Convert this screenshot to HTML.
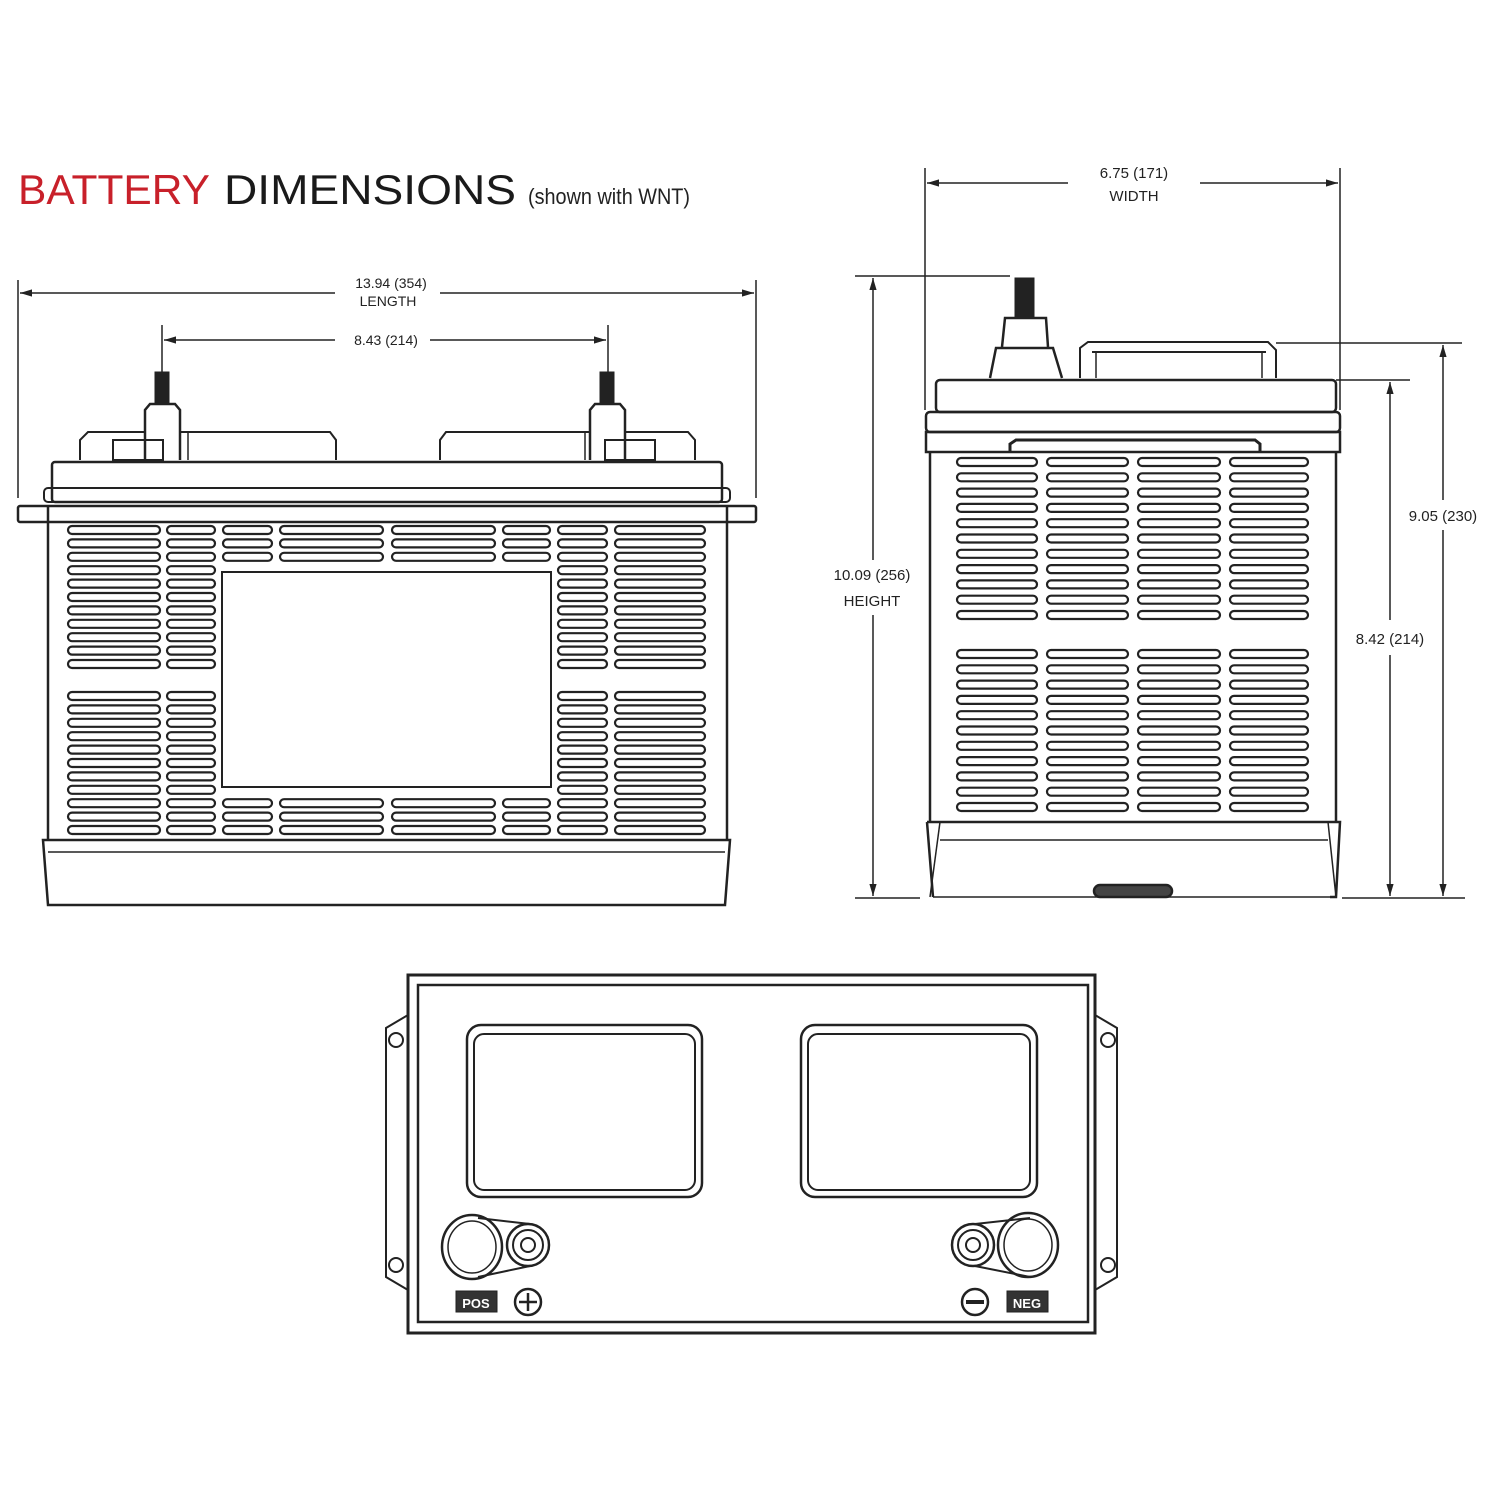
<!DOCTYPE html>
<html><head><meta charset="utf-8"><style>
html,body{margin:0;padding:0;background:#fff}
svg{display:block}
text{font-family:"Liberation Sans",sans-serif;fill:#222}
</style></head><body>
<svg id="s" width="1500" height="1500" viewBox="0 0 1500 1500" xmlns="http://www.w3.org/2000/svg">
<defs>
<marker id="a" viewBox="0 0 10 10" refX="10" refY="5" markerWidth="8" markerHeight="8" orient="auto-start-reverse"><path d="M0,2 L10,5 L0,8z" fill="#222"/></marker>
</defs>
<text x="18" y="204" font-size="42" style="fill:#c8202a" textLength="192" lengthAdjust="spacingAndGlyphs">BATTERY</text>
<text x="224" y="204" font-size="42" style="fill:#1a1a1a" textLength="292" lengthAdjust="spacingAndGlyphs">DIMENSIONS</text>
<text x="528" y="204" font-size="22" textLength="162" lengthAdjust="spacingAndGlyphs">(shown with WNT)</text>

<g fill="none" stroke="#222" stroke-width="2.5" id="g">
<!-- FRONT dims -->
<line x1="18" y1="280" x2="18" y2="498" stroke-width="1.5"/>
<line x1="756" y1="280" x2="756" y2="498" stroke-width="1.5"/>
<line x1="20" y1="293" x2="335" y2="293" stroke-width="1.5" marker-start="url(#a)"/>
<line x1="440" y1="293" x2="754" y2="293" stroke-width="1.5" marker-end="url(#a)"/>
<line x1="162" y1="325" x2="162" y2="372" stroke-width="1.5"/>
<line x1="608" y1="325" x2="608" y2="372" stroke-width="1.5"/>
<line x1="164" y1="340" x2="335" y2="340" stroke-width="1.5" marker-start="url(#a)"/>
<line x1="430" y1="340" x2="606" y2="340" stroke-width="1.5" marker-end="url(#a)"/>
<!-- front top details -->
<rect x="155" y="372" width="14" height="32" fill="#222" stroke-width="1"/>
<rect x="600" y="372" width="14" height="32" fill="#222" stroke-width="1"/>
<path d="M145 460 V410 L150 404 H175 L180 410 V460"/>
<path d="M590 460 V410 L595 404 H620 L625 410 V460"/>
<path d="M80 460 V440 L88 432 H145 M180 432 H330 L336 440 V460" stroke-width="2"/>
<path d="M440 460 V440 L446 432 H590 M625 432 H688 L695 440 V460" stroke-width="2"/>
<rect x="113" y="440" width="50" height="20" stroke-width="2"/>
<rect x="605" y="440" width="50" height="20" stroke-width="2"/>
<line x1="188" y1="432" x2="188" y2="460" stroke-width="1.5"/>
<line x1="585" y1="432" x2="585" y2="460" stroke-width="1.5"/>
<!-- lid -->
<rect x="52" y="462" width="670" height="40" rx="3"/>
<rect x="44" y="488" width="686" height="14" rx="4" stroke-width="2"/>
<rect x="18" y="506" width="738" height="16" rx="2"/>
<line x1="48" y1="506" x2="48" y2="522"/><line x1="727" y1="506" x2="727" y2="522"/>
<line x1="48" y1="522" x2="48" y2="840"/><line x1="727" y1="522" x2="727" y2="840"/>
<rect x="222" y="572" width="329" height="215" stroke-width="2"/>
<path d="M43 840 H730 L725 905 H48 Z"/>
<line x1="48" y1="852" x2="725" y2="852" stroke-width="1.5"/>

<!-- SIDE dims -->
<line x1="925" y1="168" x2="925" y2="410" stroke-width="1.5"/>
<line x1="1340" y1="168" x2="1340" y2="410" stroke-width="1.5"/>
<line x1="927" y1="183" x2="1068" y2="183" stroke-width="1.5" marker-start="url(#a)"/>
<line x1="1200" y1="183" x2="1338" y2="183" stroke-width="1.5" marker-end="url(#a)"/>
<line x1="855" y1="276" x2="1010" y2="276" stroke-width="1.5"/>
<line x1="873" y1="278" x2="873" y2="560" stroke-width="1.5" marker-start="url(#a)"/>
<line x1="873" y1="615" x2="873" y2="896" stroke-width="1.5" marker-end="url(#a)"/>
<line x1="855" y1="898" x2="920" y2="898" stroke-width="1.5"/>
<line x1="1342" y1="898" x2="1465" y2="898" stroke-width="1.5"/>
<line x1="1276" y1="343" x2="1462" y2="343" stroke-width="1.5"/>
<line x1="1336" y1="380" x2="1410" y2="380" stroke-width="1.5"/>
<line x1="1443" y1="345" x2="1443" y2="500" stroke-width="1.5" marker-start="url(#a)"/>
<line x1="1443" y1="530" x2="1443" y2="896" stroke-width="1.5" marker-end="url(#a)"/>
<line x1="1390" y1="382" x2="1390" y2="620" stroke-width="1.5" marker-start="url(#a)"/>
<line x1="1390" y1="655" x2="1390" y2="896" stroke-width="1.5" marker-end="url(#a)"/>
<!-- side terminal -->
<rect x="1015" y="278" width="19" height="40" fill="#222" stroke-width="1"/>
<path d="M1002 347 L1005 318 H1046 L1048 347"/>
<path d="M990 378 L996 348 H1053 L1062 378"/>
<path d="M1080 378 V348 L1088 342 H1268 L1276 350 V378" stroke-width="2"/>
<line x1="1092" y1="352" x2="1266" y2="352" stroke-width="2"/>
<line x1="1096" y1="352" x2="1096" y2="378" stroke-width="1.5"/>
<line x1="1262" y1="352" x2="1262" y2="378" stroke-width="1.5"/>
<rect x="936" y="380" width="400" height="32" rx="4"/>
<rect x="926" y="412" width="414" height="20" rx="4"/>
<rect x="926" y="432" width="414" height="20"/>
<path d="M1010 452 V444 L1016 440 H1255 L1260 444 V452" stroke-width="3"/>
<line x1="930" y1="452" x2="930" y2="822"/><line x1="1336" y1="822" x2="1336" y2="452"/>
<path d="M927 822 H1340 L1336 897 H1330 M927 822 L933 897" />
<line x1="940" y1="822" x2="930" y2="897" stroke-width="1.5"/>
<line x1="1328" y1="822" x2="1336" y2="897" stroke-width="1.5"/>
<line x1="940" y1="840" x2="1328" y2="840" stroke-width="1.5"/>
<line x1="933" y1="897" x2="1330" y2="897" stroke-width="1.5"/>
<rect x="1094" y="885" width="78" height="12" rx="6" fill="#444"/>

<!-- TOP view -->
<path d="M408 975 H1095 V1333 H408 Z" stroke-width="3"/>
<rect x="418" y="985" width="670" height="337"/>
<path d="M408 1015 L386 1028 V1277 L408 1290" stroke-width="2"/>
<path d="M1095 1015 L1117 1028 V1277 L1095 1290" stroke-width="2"/>
<circle cx="396" cy="1040" r="7" stroke-width="2"/><circle cx="396" cy="1265" r="7" stroke-width="2"/>
<circle cx="1108" cy="1040" r="7" stroke-width="2"/><circle cx="1108" cy="1265" r="7" stroke-width="2"/>
<rect x="467" y="1025" width="235" height="172" rx="14"/>
<rect x="474" y="1034" width="221" height="156" rx="10" stroke-width="2"/>
<rect x="801" y="1025" width="236" height="172" rx="14"/>
<rect x="808" y="1034" width="222" height="156" rx="10" stroke-width="2"/>
<!-- terminals -->
<path d="M478 1218 L530 1224 M478 1277 L530 1266" stroke-width="2"/>
<ellipse cx="472" cy="1247" rx="30" ry="32"/>
<ellipse cx="472" cy="1247" rx="24" ry="26" stroke-width="1.5"/>
<circle cx="528" cy="1245" r="21"/><circle cx="528" cy="1245" r="15" stroke-width="2"/><circle cx="528" cy="1245" r="7" stroke-width="2"/>
<path d="M1030 1218 L975 1224 M1030 1277 L975 1266" stroke-width="2"/>
<ellipse cx="1028" cy="1245" rx="30" ry="32"/>
<ellipse cx="1028" cy="1245" rx="24" ry="26" stroke-width="1.5"/>
<circle cx="973" cy="1245" r="21"/><circle cx="973" cy="1245" r="15" stroke-width="2"/><circle cx="973" cy="1245" r="7" stroke-width="2"/>
<rect x="456" y="1291" width="41" height="21" fill="#333" stroke-width="1"/>
<rect x="1007" y="1291" width="41" height="21" fill="#333" stroke-width="1"/>
<circle cx="528" cy="1302" r="13"/>
<path d="M528 1293 V1311 M519 1302 H537" stroke-width="2.5"/>
<circle cx="975" cy="1302" r="13"/>
<path d="M966 1302 H984" stroke-width="4"/>
</g>
<text x="391" y="288" font-size="14" text-anchor="middle">13.94 (354)</text>
<text x="388" y="306" font-size="14" text-anchor="middle">LENGTH</text>
<text x="386" y="345" font-size="14" text-anchor="middle">8.43 (214)</text>
<text x="1134" y="178" font-size="15" text-anchor="middle">6.75 (171)</text>
<text x="1134" y="201" font-size="15" text-anchor="middle">WIDTH</text>
<text x="872" y="580" font-size="15" text-anchor="middle">10.09 (256)</text>
<text x="872" y="606" font-size="15" text-anchor="middle">HEIGHT</text>
<text x="1443" y="521" font-size="15" text-anchor="middle">9.05 (230)</text>
<text x="1390" y="644" font-size="15" text-anchor="middle">8.42 (214)</text>
<text x="476" y="1308" font-size="13" text-anchor="middle" style="fill:#fff;font-weight:bold">POS</text>
<text x="1027" y="1308" font-size="13" text-anchor="middle" style="fill:#fff;font-weight:bold">NEG</text>
<g id="slots" fill="none" stroke="#222" stroke-width="2.2"></g>
</svg>
<script>
var g=document.getElementById('slots'),h='';
function sl(x1,x2,y){h+='<rect x="'+x1+'" y="'+y+'" width="'+(x2-x1)+'" height="8" rx="4"/>';}
var fc=[[68,160],[167,215],[223,272],[280,383],[392,495],[503,550],[558,607],[615,705]];
for(var i=0;i<11;i++){var y=526+i*13.4;fc.forEach(function(c){if(y>565&&c[0]>=223&&c[1]<=550)return;sl(c[0],c[1],y);});}
for(var i=0;i<11;i++){var y=692+i*13.4;fc.forEach(function(c){if(y<790&&c[0]>=223&&c[1]<=550)return;sl(c[0],c[1],y);});}
var sc=[[957,1037],[1047,1128],[1138,1220],[1230,1308]];
for(var i=0;i<11;i++){var y=458+i*15.3;sc.forEach(function(c){sl(c[0],c[1],y);});}
for(var i=0;i<11;i++){var y=650+i*15.3;sc.forEach(function(c){sl(c[0],c[1],y);});}
g.innerHTML=h;
</script>
</body></html>
